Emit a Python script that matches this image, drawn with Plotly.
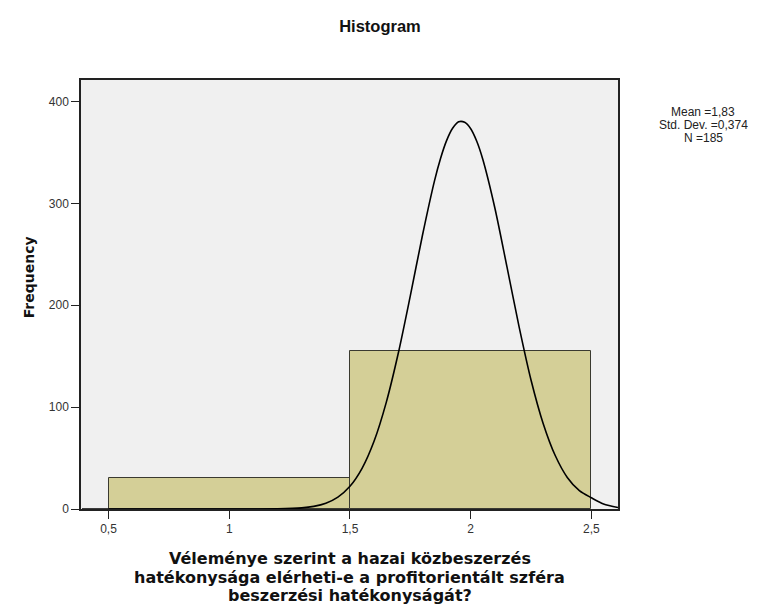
import plotly.graph_objects as go

# Histogram data
bin_centers = [1, 2]
bin_counts = [30, 155]
bin_width = 1

# Normal curve
curve_x = [0.39, 0.80, 1.00, 1.10, 1.20, 1.30, 1.35, 1.40, 1.45, 1.50, 1.55, 1.60, 1.65, 1.70,
           1.75, 1.80, 1.85, 1.875, 1.90, 1.925, 1.95, 1.975, 2.00, 2.025, 2.05, 2.10, 2.15,
           2.20, 2.25, 2.30, 2.35, 2.40, 2.45, 2.50, 2.55, 2.61]
curve_y = [0.0, 0.0, 0.0, 0.02, 0.17, 1.1, 2.6, 5.7, 11.7, 22.3, 39.9, 66.7, 104.4, 152.8,
           209.4, 268.4, 322.0, 344.0, 361.5, 373.6, 380.0, 379.5, 373.2, 360.9, 343.2, 295.4, 237.8,
           179.3, 126.4, 84.0, 52.5, 31.0, 18.0, 11.0, 5.0, 1.5]

stats_lines = ["Mean =1,83", "Std. Dev. =0,374", "N =185"]
title_text = "Histogram"
x_title_lines = ["Véleménye szerint a hazai közbeszerzés",
                 "hatékonysága elérheti-e a profitorientált szféra",
                 "beszerzési hatékonyságát?"]
y_title = "Frequency"

fig = go.Figure()
fig.add_trace(go.Bar(
    x=bin_centers, y=bin_counts, width=[bin_width] * len(bin_centers),
    marker=dict(color="#d4cf97", line=dict(color="#3a3a30", width=1)),
    showlegend=False, hoverinfo="skip",
))
fig.add_trace(go.Scatter(
    x=curve_x, y=curve_y, mode="lines",
    line=dict(color="black", width=1.6, shape="spline", smoothing=0.8),
    showlegend=False, hoverinfo="skip",
))

L, R, T, B = 72.5, 152.5, 72, 104.5
W, H = 763, 606
pw, ph = W - L - R, H - T - B

fig.update_layout(
    width=W, height=H,
    margin=dict(l=L, r=R, t=T, b=B, pad=0),
    paper_bgcolor="white",
    plot_bgcolor="#f0f0f0",
    separators=",.",
    font=dict(family="Liberation Sans, Arial, sans-serif", size=12, color="#333333"),
    title=dict(text="<b>" + title_text + "</b>", x=372 / W, xanchor="center",
               y=1 - 18 / H, yanchor="middle",
               font=dict(family="Liberation Sans, Arial, sans-serif", size=16.5, color="#111111")),
    bargap=0,
)
fig.update_xaxes(
    range=[0.386, 2.61], tickmode="linear", tick0=0.5, dtick=0.5,
    ticks="outside", ticklen=8, tickcolor="#222222", tickwidth=1,
    showline=True, linecolor="#222222", linewidth=1.5, mirror=True,
    showgrid=False, zeroline=False,
    tickfont=dict(size=12, color="#333333"),
)
fig.update_yaxes(
    range=[0, 421], tickmode="linear", tick0=0, dtick=100,
    ticks="outside", ticklen=8, tickcolor="#222222", tickwidth=1,
    showline=True, linecolor="#222222", linewidth=1.5, mirror=True,
    showgrid=False, zeroline=False,
    tickfont=dict(size=12, color="#333333"),
)

annotations = []
for i, line in enumerate(x_title_lines):
    annotations.append(dict(
        text="<b>" + line + "</b>", xref="paper", yref="paper",
        x=0.5, y=(H - B - (551 + 18.7 * i)) / ph, xanchor="center", yanchor="middle",
        showarrow=False, align="center",
        font=dict(family="DejaVu Sans, Verdana, sans-serif", size=16, color="#111111"),
    ))
annotations.append(dict(
    text="<b>" + y_title + "</b>", xref="paper", yref="paper",
    x=(20 - L) / pw, y=(H - B - 270) / ph, xanchor="center", yanchor="middle",
    textangle=-90, showarrow=False,
    font=dict(family="DejaVu Sans, Verdana, sans-serif", size=14, color="#111111"),
))
for i, line in enumerate(stats_lines):
    annotations.append(dict(
        text=line, xref="paper", yref="paper",
        x=(696 - L) / pw, y=(H - B - (104 + 13 * i)) / ph,
        xanchor="center", yanchor="middle", showarrow=False,
        font=dict(family="Liberation Sans, Arial, sans-serif", size=12, color="#222222"),
    ))
fig.update_layout(annotations=annotations)

fig.write_html("out.html")
